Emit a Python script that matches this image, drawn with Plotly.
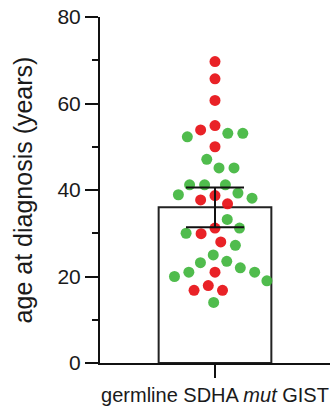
import numpy as np
import plotly.graph_objects as go

# ---- data ----
category = "germline SDHA <i>mut</i> GIST"
red_ages = [69.7, 65.7, 60.7, 54.9, 53.9, 50.0, 38.7, 37.7, 36.8, 31.2, 29.9,
            28.0, 21.0, 17.9, 16.8, 16.8]
green_ages = [53.1, 53.1, 52.3, 47.1, 45.1, 45.1, 41.2, 41.2, 41.2, 39.3, 38.9,
              38.1, 33.2, 31.2, 30.0, 27.2, 25.0, 23.5, 23.2, 22.0, 21.0, 21.0,
              20.0, 19.0, 14.0]
y_tick_vals = [0, 20, 40, 60, 80]

# ---- layout constants ----
W, H = 331, 408
M_L, M_R, M_T, M_B = 100, 1, 17, 45
Y_MAX = 80
PLOT_W = W - M_L - M_R
PLOT_H = H - M_T - M_B
DOT = 11
SWARM_GAP = 15

# ---- summary statistics: mean with 95% CI ----
all_ages = np.array(red_ages + green_ages)
n = len(all_ages)
mean = all_ages.mean()
sd = all_ages.std(ddof=1)
T_CRIT = 2.021  # t(0.975, df=40)
ci = T_CRIT * sd / np.sqrt(n)


# ---- beeswarm layout computed from the values ----
def swarm(groups, d):
    ppu_y = PLOT_H / Y_MAX
    ppu_x = PLOT_W / 1.0
    placed = []
    out = []
    for vals in groups:
        xs = []
        for v in vals:
            y = v * ppu_y
            cands = [0.0]
            for px, py in placed:
                dy = abs(py - y)
                if dy < d:
                    dx = np.sqrt(d * d - dy * dy)
                    cands += [px + dx, px - dx]
            cands.sort(key=lambda c: (round(abs(c), 6), c))
            chosen = 0.0
            for c in cands:
                if all((c - px) ** 2 + (y - py) ** 2 >= d * d - 1e-6 for px, py in placed):
                    chosen = c
                    break
            placed.append((chosen, y))
            xs.append(chosen / ppu_x)
        out.append(xs)
    return out


red_x, green_x = swarm([red_ages, green_ages], SWARM_GAP)

fig = go.Figure()
fig.add_trace(go.Bar(
    x=[0], y=[mean], width=0.49,
    marker=dict(color="white", line=dict(color="#222222", width=2)),
    showlegend=False, hoverinfo="skip",
))
fig.add_trace(go.Scatter(
    x=red_x, y=red_ages, mode="markers",
    marker=dict(size=DOT, color="#E8161B", opacity=0.95, line=dict(width=0)),
    showlegend=False,
))
fig.add_trace(go.Scatter(
    x=green_x, y=green_ages, mode="markers",
    marker=dict(size=DOT, color="#3DB53A", opacity=0.9, line=dict(width=0)),
    showlegend=False,
))
fig.add_trace(go.Scatter(
    x=[0], y=[mean], mode="markers",
    marker=dict(size=1, opacity=0),
    error_y=dict(type="data", array=[ci], color="#111111", thickness=2, width=29),
    showlegend=False, hoverinfo="skip",
))

FONT = "Liberation Sans, Arial, sans-serif"
fig.update_layout(
    width=W, height=H,
    margin=dict(l=M_L, r=M_R, t=M_T, b=M_B, pad=0),
    paper_bgcolor="white", plot_bgcolor="white",
    font=dict(family=FONT, color="#1a1a1a"),
    xaxis=dict(
        range=[-0.5, 0.5], tickvals=[0], ticktext=[category],
        showline=True, linecolor="#111111", linewidth=2,
        ticks="outside", ticklen=13, tickwidth=2, tickcolor="#111111",
        tickfont=dict(size=20, family=FONT, color="#1a1a1a"),
        showgrid=False, zeroline=False, fixedrange=True,
    ),
    yaxis=dict(
        range=[0, Y_MAX], tickvals=y_tick_vals,
        showline=True, linecolor="#111111", linewidth=2,
        ticks="outside", ticklen=13, tickwidth=2, tickcolor="#111111",
        tickfont=dict(size=21, family=FONT, color="#1a1a1a"),
        minor=dict(dtick=10, ticks="outside", ticklen=6, tickwidth=2,
                   tickcolor="#111111", showgrid=False),
        showgrid=False, zeroline=False,
        title=dict(text="age at diagnosis (years)",
                   font=dict(size=25, family=FONT, color="#1a1a1a"),
                   standoff=18),
    ),
)

fig.write_html("out.html")
